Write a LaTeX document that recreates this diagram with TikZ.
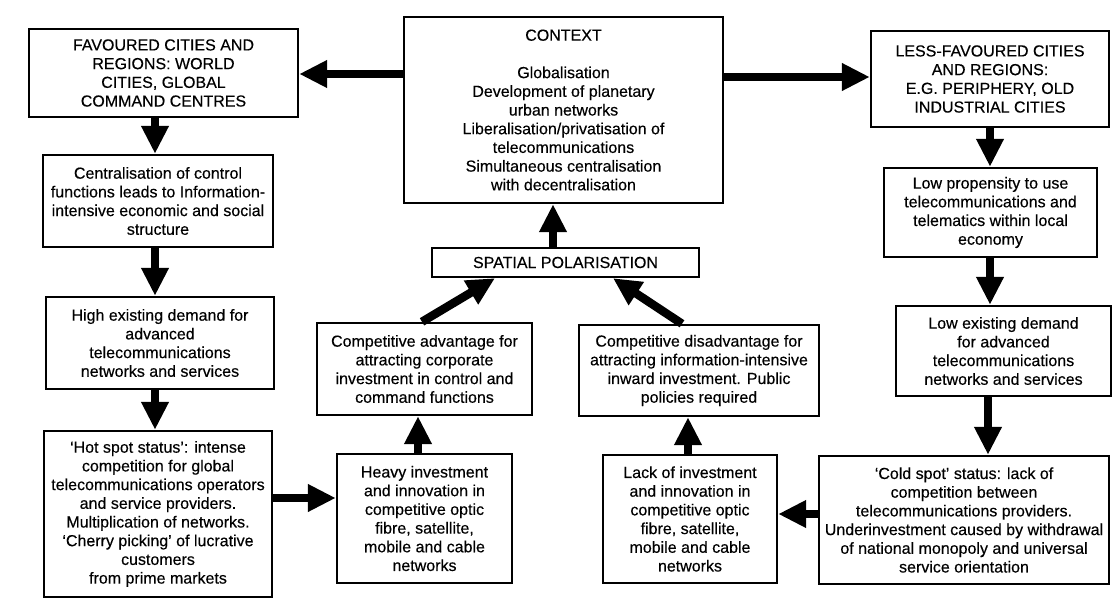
\documentclass[tikz,border=0pt]{standalone}
\usepackage{fontspec}
\setmainfont{Liberation Sans}
\newfontfamily\boxfont[UprightFeatures={FakeBold=0.35}]{Liberation Sans}
\usetikzlibrary{arrows.meta}
\begin{document}
\begin{tikzpicture}[x=1pt,y=-1pt,
  box/.style={draw, line width=2.4pt, align=center, inner sep=0pt,
    font=\boxfont\fontsize{16}{18.7}\selectfont},
  flow/.style={line width=8.5pt, -{Triangle[length=28pt,width=26pt]}}]
\useasboundingbox (0,0) rectangle (1115,599);

% top row
\node[box, minimum width=269pt, minimum height=88pt] (fav) at (163.5,73)
  {FAVOURED CITIES AND\\REGIONS: WORLD\\CITIES, GLOBAL\\COMMAND CENTRES};
\node[box, minimum width=319pt, minimum height=186pt] (ctx) at (563.5,110)
  {CONTEXT\\[18.7pt]Globalisation\\Development of planetary\\urban networks\\Liberalisation/privatisation of\\telecommunications\\Simultaneous centralisation\\with decentralisation};
\node[box, minimum width=238pt, minimum height=96pt] (less) at (990,79)
  {LESS-FAVOURED CITIES\\AND REGIONS:\\E.G. PERIPHERY, OLD\\INDUSTRIAL CITIES};

% left column
\node[box, minimum width=230pt, minimum height=92pt] (cent) at (158,201)
  {Centralisation of control\\functions leads to Information-\\intensive economic and social\\structure};
\node[box, minimum width=228pt, minimum height=92pt] (high) at (160,343)
  {High existing demand for\\advanced\\telecommunications\\networks and services};
\node[box, minimum width=228pt, minimum height=166pt] (hot) at (158,514)
  {‘Hot spot status’: intense\\competition for global\\telecommunications operators\\and service providers.\\Multiplication of networks.\\‘Cherry picking’ of lucrative\\customers\\from prime markets};

% middle
\node[box, minimum width=267pt, minimum height=29pt] (spat) at (565.5,262.5)
  {SPATIAL POLARISATION};
\node[box, minimum width=215pt, minimum height=92pt] (adv) at (424.5,369)
  {Competitive advantage for\\attracting corporate\\investment in control and\\command functions};
\node[box, minimum width=240pt, minimum height=91pt] (dis) at (699,370.5)
  {Competitive disadvantage for\\attracting information-intensive\\inward investment. Public\\policies required};
\node[box, minimum width=175pt, minimum height=129pt] (heavy) at (424.5,518.5)
  {Heavy investment\\and innovation in\\competitive optic\\fibre, satellite,\\mobile and cable\\networks};
\node[box, minimum width=174pt, minimum height=128pt] (lack) at (690,519)
  {Lack of investment\\and innovation in\\competitive optic\\fibre, satellite,\\mobile and cable\\networks};

% right column
\node[box, minimum width=213pt, minimum height=89pt] (prop) at (990.5,212.5)
  {Low propensity to use\\telecommunications and\\telematics within local\\economy};
\node[box, minimum width=215pt, minimum height=90pt] (lowd) at (1003.5,351)
  {Low existing demand\\for advanced\\telecommunications\\networks and services};
\node[box, minimum width=290pt, minimum height=128pt] (cold) at (964,520)
  {‘Cold spot’ status: lack of\\competition between\\telecommunications providers.\\Underinvestment caused by withdrawal\\of national monopoly and universal\\service orientation};

% connectors
\draw[flow] (ctx.west |- 0,74) -- (fav.east |- 0,74);
\draw[flow] (ctx.east |- 0,77) -- (less.west |- 0,77);
\draw[flow] (fav.south -| 155,0) -- (cent.north -| 155,0);
\draw[flow] (cent.south -| 155,0) -- (high.north -| 155,0);
\draw[flow] (high.south -| 155,0) -- (hot.north -| 155,0);
\draw[flow] (hot.east |- 0,498) -- (heavy.west |- 0,498);
\draw[flow] (heavy.north -| 418,0) -- (adv.south -| 418,0);
\draw[flow] (adv.north -| 422,0) -- (spat.south -| 495,0);
\draw[flow] (lack.north -| 688,0) -- (dis.south -| 688,0);
\draw[flow] (dis.north -| 682,0) -- (spat.south -| 613,0);
\draw[flow] (spat.north -| 553,0) -- (ctx.south -| 553,0);
\draw[flow] (less.south -| 990,0) -- (prop.north -| 990,0);
\draw[flow] (prop.south -| 990,0) -- (lowd.north -| 990,0);
\draw[flow] (lowd.south -| 988,0) -- (cold.north -| 988,0);
\draw[flow] (cold.west |- 0,514) -- (lack.east |- 0,514);
\end{tikzpicture}
\end{document}
